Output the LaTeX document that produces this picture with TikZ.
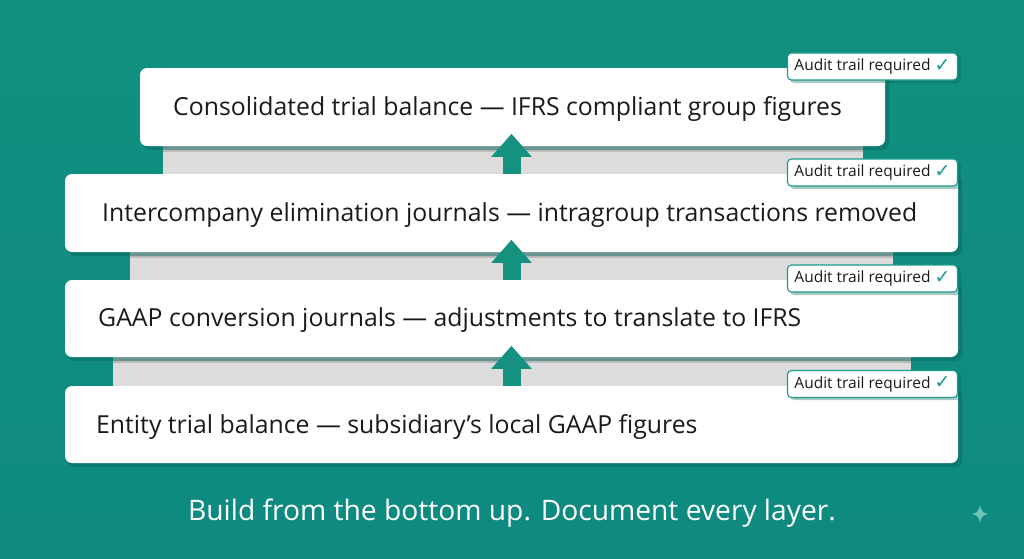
\documentclass[tikz,border=0pt]{standalone}
\usepackage{fontspec}
\setmainfont{Open Sans}
\newfontfamily\symfont{DejaVu Sans}
\usetikzlibrary{arrows.meta}
\definecolor{bgteal}{HTML}{11907F}
\definecolor{bgtealB}{HTML}{0E8A80}
\definecolor{arrteal}{HTML}{14917F}
\definecolor{tagteal}{HTML}{1C9A8B}
\definecolor{bandlight}{HTML}{DCDCDD}
\definecolor{banddark}{HTML}{BDBDBD}
\definecolor{shadowteal}{HTML}{07655C}
\definecolor{txt}{HTML}{1A1A1A}
\definecolor{sparkle}{HTML}{6FC2B8}
\tikzset{
  layerbox/.style={fill=white, rounded corners=7pt, inner sep=0pt, minimum height=78pt},
  layertext/.style={anchor=west, text=txt, font=\fontsize{24.8}{28}\selectfont, inner sep=0pt},
  bandlite/.style={fill=bandlight},
  banddk/.style={fill=banddark},
  boxshadow/.style={fill=shadowteal, opacity=0.45, rounded corners=7pt},
  uparrow/.style={draw=arrteal, line width=18pt, -{Triangle[width=39pt,length=23pt]}},
  audittag/.style={draw=tagteal, line width=1.1pt, fill=white, rounded corners=4pt, anchor=east,
    minimum height=27pt, minimum width=170pt, inner xsep=5pt, inner ysep=0pt, text=txt,
    font=\fontsize{15.5}{17}\selectfont},
  tagshadow/.style={fill=shadowteal, opacity=0.35, rounded corners=4pt},
}
\newcommand{\tagtext}{Audit trail required\hspace{4pt}\raisebox{-0.5pt}{\textcolor{tagteal}{\fontsize{19}{19}\symfont ✓}}}
\begin{document}
\begin{tikzpicture}[x=1pt,y=-1pt]
\useasboundingbox (0,0) rectangle (1024,558);
\shade[top color=bgteal, bottom color=bgtealB] (0,0) rectangle (1024,558);
% bands
\fill[bandlite] (163,146) rectangle (863,174);
\fill[banddk] (163,146) rectangle (863,152);
\fill[bandlite] (130,252) rectangle (893,280);
\fill[banddk] (130,252) rectangle (893,258);
\fill[bandlite] (113,357) rectangle (911,386);
\fill[banddk] (113,357) rectangle (911,363);
% shadows
\fill[boxshadow] (143,72) rectangle (889,150);
\fill[boxshadow] (68,178) rectangle (962,256);
\fill[boxshadow] (68,284) rectangle (962,361);
\fill[boxshadow] (68,390) rectangle (962,467);
% boxes
\node[layerbox, minimum width=745pt] (b1) at (512.5,107) {};
\node[layerbox, minimum width=893pt] (b2) at (511.5,213) {};
\node[layerbox, minimum width=893pt, minimum height=77pt] (b3) at (511.5,318.5) {};
\node[layerbox, minimum width=893pt, minimum height=77pt] (b4) at (511.5,424.5) {};
% texts
\node[layertext] (t1) at (173,109) {Consolidated trial balance — IFRS compliant group figures};
\node[layertext] (t2) at (102,215) {Intercompany elimination journals — intragroup transactions removed};
\node[layertext] (t3) at (98,320.5) {GAAP conversion journals — adjustments to translate to IFRS};
\node[layertext] (t4) at (96,426.5) {Entity trial balance — subsidiary’s local GAAP figures};
% arrows
\draw[uparrow] (b2.north) -- ++(0,-40);
\draw[uparrow] (b3.north) -- ++(0,-40);
\draw[uparrow] (b4.north) -- ++(0,-40);
% tags
\fill[tagshadow] (790,55) rectangle (961,83);
\fill[tagshadow] (790,161) rectangle (961,189);
\fill[tagshadow] (790,267) rectangle (961,295);
\fill[tagshadow] (790,372) rectangle (961,400);
\node[audittag] (a1) at (958,66.5) {\tagtext};
\node[audittag] (a2) at (958,172.5) {\tagtext};
\node[audittag] (a3) at (958,278.5) {\tagtext};
\node[audittag] (a4) at (958,384) {\tagtext};
% footer
\node[text=white, font=\fontsize{28.2}{32}\selectfont] (foot) at (512,513) {Build from the bottom up. Document every layer.};
% sparkle
\fill[sparkle] (980,505) .. controls (981,511) and (983,513) .. (988,514)
  .. controls (983,515) and (981,517) .. (980,523)
  .. controls (979,517) and (977,515) .. (972,514)
  .. controls (977,513) and (979,511) .. (980,505) -- cycle;
\end{tikzpicture}
\end{document}
